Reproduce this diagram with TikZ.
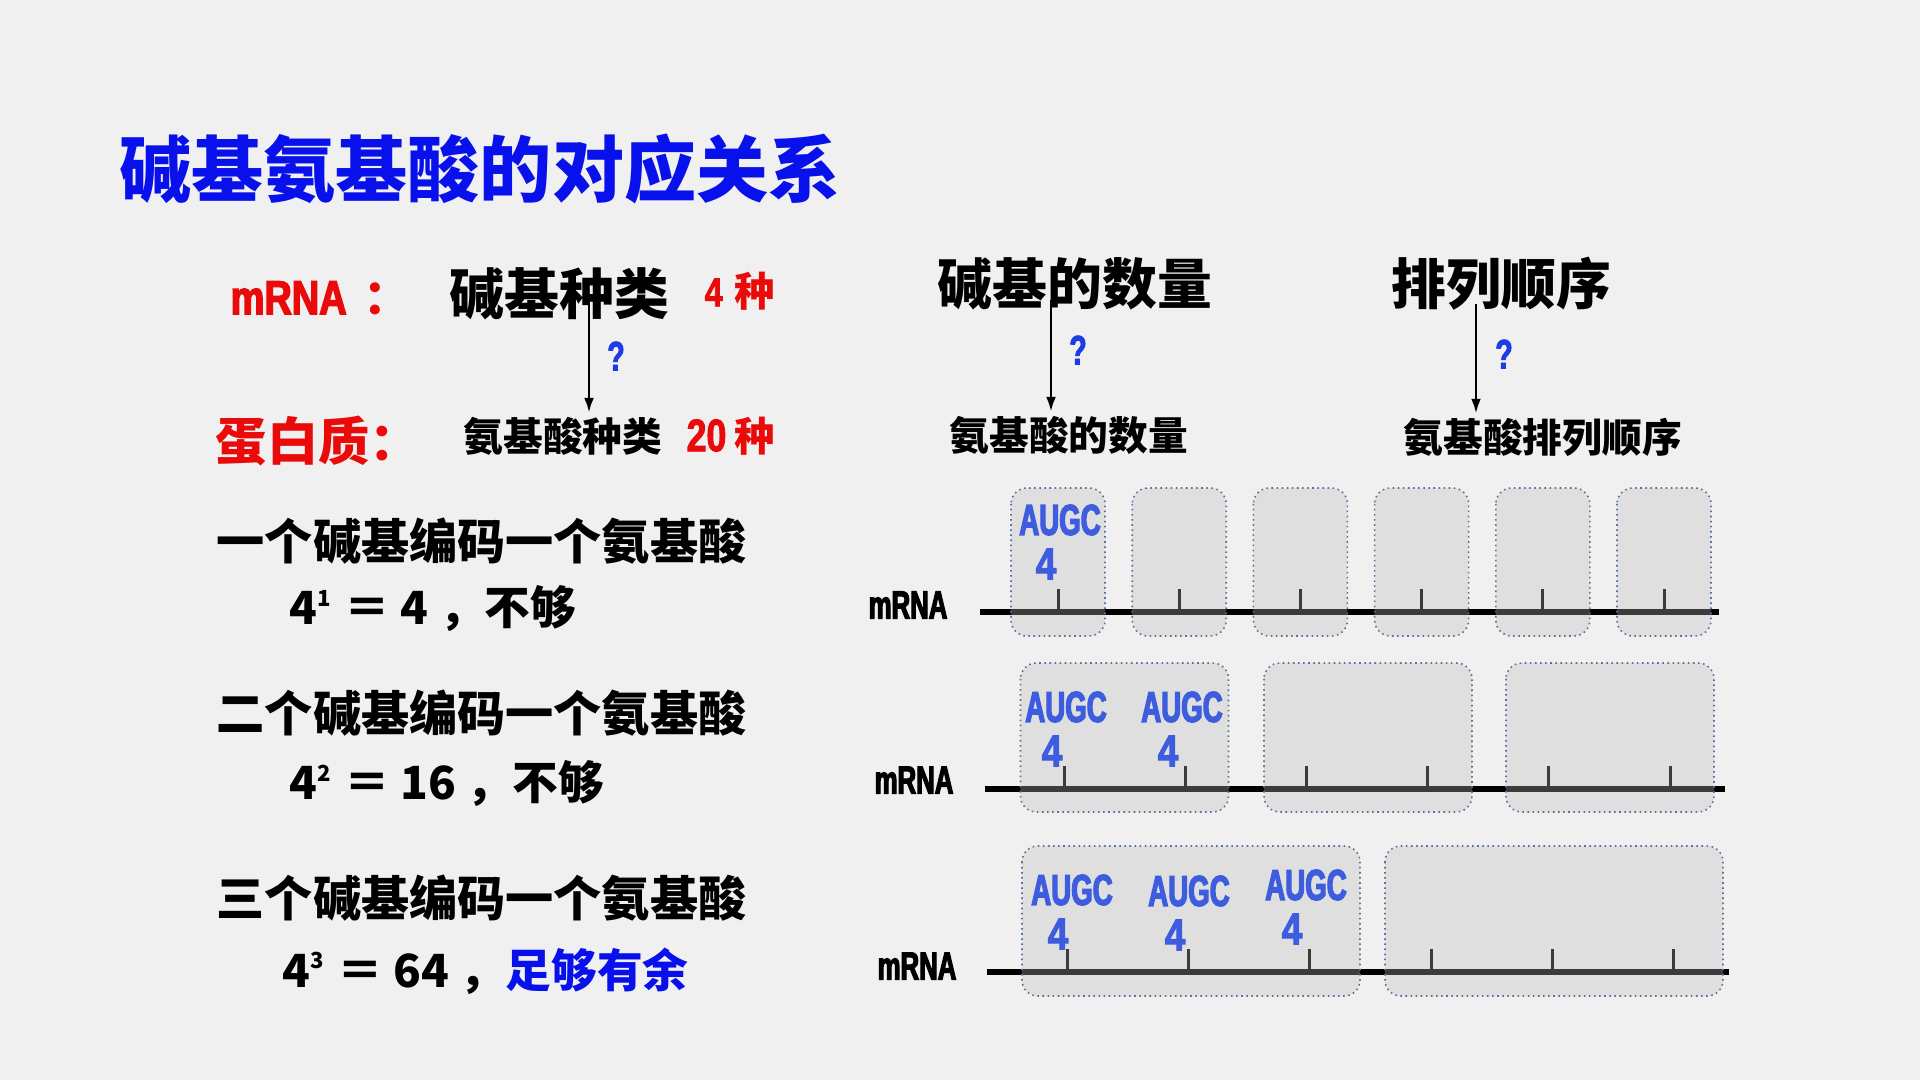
\documentclass[tikz,border=0pt]{standalone}
\usepackage{fontspec}
\setmainfont{Noto Sans CJK SC}
\font\narL="Liberation Sans/B:extend=0.66;embolden=3" at 11.1pt
\font\narA="Liberation Sans/B:extend=0.64;embolden=3" at 12.3pt
\font\narQ="Liberation Sans/B:extend=0.7;embolden=2" at 11.7pt
\font\semiN="Liberation Sans/B:extend=0.82;embolden=2.5" at 12.7pt
\font\semiR="Liberation Sans/B:extend=0.8;embolden=3" at 13.5pt
\font\semiS="Liberation Sans/B:extend=0.8;embolden=2" at 11.5pt
\font\semiT="Liberation Sans/B:extend=0.78;embolden=2" at 13pt
\usetikzlibrary{arrows.meta}
\definecolor{bg}{RGB}{240,240,240}
\definecolor{ttlblue}{RGB}{8,16,235}
\definecolor{hired}{RGB}{235,10,10}
\definecolor{qblue}{RGB}{30,60,230}
\definecolor{augcblue}{RGB}{62,92,222}
\definecolor{boxline}{RGB}{85,115,155}
\definecolor{boxfill}{gray}{0.74}
\newcommand{\fs}[1]{\fontsize{#1}{#1}\selectfont\bfseries}
\newcommand{\pw}[1]{\raisebox{5.2pt}{\fontsize{6.3}{6.3}\selectfont #1}}
\newcommand{\strand}[4]{
	\draw[strand] (#2,#1) -- (#3,#1);
	\foreach \i in {0,...,5} {
		\draw[tickmark] (#4+\i*1.212,#1) -- ++(0,-0.235);
	}
}
\newcommand{\codons}[4]{
	\foreach \c in {#4} {
		\draw[codonbox] (\c-#3,#1) rectangle (\c+#3,#2);
	}
}
\newcommand{\augc}[3]{
	\node[augc] (#1) at (#2,#3) {AUGC};
	\node[augcnum] (#1n) at (#2-0.14,#3+0.44) {4};
}
\tikzset{
	lbl/.style={anchor=west, font=\fs{#1}},
	qm/.style={text=qblue, font=\narQ},
	arr/.style={line width=0.7pt, -{Latex[length=4.2pt,width=2.8pt]}, shorten >=1pt},
	strand/.style={line width=1.5pt},
	tickmark/.style={line width=0.85pt},
	codonbox/.style={draw=boxline, densely dotted, line width=0.45pt, rounded corners=4.5pt, fill=boxfill, fill opacity=0.32},
	augc/.style={text=augcblue, font=\narA},
	augcnum/.style={text=augcblue, font=\semiN}
}
\begin{document}
\begin{tikzpicture}[x=1cm, y=-1cm, every node/.style={inner sep=0pt}]
	\fill[bg] (0,0) rectangle (19.2,10.8);
	\useasboundingbox (0,0) rectangle (19.2,10.8);

	\node[lbl=20.5, text=ttlblue] (title) at (1.19,1.69) {碱基氨基酸的对应关系};

	\node[lbl=13.5, text=hired] (mrna) at (2.30,2.98) {{\semiR mRNA}\hspace{0.35em}：};
	\node[lbl=14.6, text=hired] (prot) at (2.15,4.41) {蛋白质：};
	\node[lbl=15.6] (b1) at (4.49,2.94) {碱基种类};
	\node[lbl=11.5, text=hired] (b1n) at (7.04,2.91) {{\semiS 4}\hspace{0.3em}种};
	\node[lbl=11.3] (a1) at (4.63,4.36) {氨基酸种类};
	\node[lbl=11.5, text=hired] (a1n) at (6.86,4.36) {{\semiT 20}\hspace{0.2em}种};
	\node[lbl=15.6] (b2) at (9.37,2.84) {碱基的数量};
	\node[lbl=11.3] (a2) at (9.49,4.35) {氨基酸的数量};
	\node[lbl=15.6] (b3) at (13.91,2.84) {排列顺序};
	\node[lbl=11.3] (a3) at (14.03,4.37) {氨基酸排列顺序};

	\coordinate (s1) at (5.89,3.00);
	\coordinate (s2) at (10.51,3.00);
	\coordinate (s3) at (14.76,3.04);
	\draw[arr] (s1) -- (s1 |- a1.north);
	\draw[arr] (s2) -- (s2 |- a2.north);
	\draw[arr] (s3) -- (s3 |- a3.north);
	\node[qm] (q1) at (6.16,3.56) {?};
	\node[qm] (q2) at (10.78,3.50) {?};
	\node[qm] (q3) at (15.04,3.54) {?};

	\node[lbl=13.7] (c1) at (2.16,5.41) {一个碱基编码一个氨基酸};
	\node[lbl=13] (f1) at (2.89,6.09) {4\pw{1}\hspace{0.3em}＝ 4 ，不够};
	\node[lbl=13.7] (c2) at (2.16,7.13) {二个碱基编码一个氨基酸};
	\node[lbl=13] (f2) at (2.89,7.84) {4\pw{2}\hspace{0.3em}＝ 16 ，不够};
	\node[lbl=13.7] (c3) at (2.16,8.98) {三个碱基编码一个氨基酸};
	\node[lbl=13] (f3) at (2.82,9.71) {4\pw{3}\hspace{0.3em}＝ 64 ，\textcolor{ttlblue}{足够有余}};

	\node[anchor=west, font=\narL] (m1) at (8.68,6.05) {mRNA};
	\node[anchor=west, font=\narL] (m2) at (8.74,7.80) {mRNA};
	\node[anchor=west, font=\narL] (m3) at (8.77,9.66) {mRNA};

	\strand{6.12}{9.80}{17.19}{10.58}
	\strand{7.89}{9.85}{17.25}{10.64}
	\strand{9.72}{9.87}{17.29}{10.675}
	\codons{4.88}{6.36}{0.47}{10.58,11.792,13.004,14.216,15.428,16.64}
	\codons{6.63}{8.12}{1.04}{11.245,13.68,16.10}
	\codons{8.46}{9.96}{1.69}{11.91,15.54}

	\augc{u1}{10.60}{5.20}
	\augc{u2}{10.66}{7.07}
	\augc{u3}{11.82}{7.07}
	\augc{u4}{10.72}{8.90}
	\augc{u5}{11.89}{8.91}
	\augc{u6}{13.06}{8.85}
\end{tikzpicture}
\end{document}
